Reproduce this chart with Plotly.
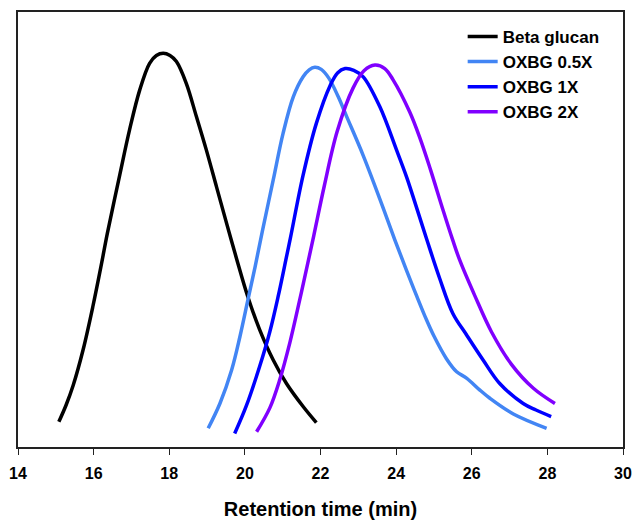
import plotly.graph_objects as go

# Retention time (min) and relative signal (arbitrary units, 0-100)
beta_x = [15.08, 15.27, 15.46, 15.72, 15.98, 16.21, 16.36, 16.69, 16.95, 17.22, 17.48, 17.66,
          17.84, 18.02, 18.19, 18.45, 18.72, 18.98, 19.25, 19.53, 19.78, 20.08, 20.39, 20.75,
          21.10, 21.54, 21.89]
beta_y = [5.8, 9.6, 14.2, 22.3, 32.3, 42.2, 49.0, 62.5, 72.9, 82.1, 88.2, 90.0,
          90.5, 90.0, 88.6, 83.6, 75.9, 68.3, 59.8, 51.0, 43.3, 34.5, 27.0, 20.0,
          14.6, 9.3, 5.6]

ox05_x = [19.03, 19.34, 19.65, 19.87, 20.08, 20.26, 20.46, 20.75, 21.01, 21.28, 21.54, 21.70,
          21.85, 22.02, 22.22, 22.47, 22.69, 23.13, 23.57, 23.97, 24.28, 24.54, 24.80, 25.00,
          25.33, 25.60, 25.87, 26.20, 26.48, 27.10, 27.98]
ox05_y = [4.3, 10.0, 17.7, 25.4, 33.8, 41.0, 49.5, 61.4, 72.1, 80.5, 85.1, 86.7,
          87.3, 86.8, 84.8, 80.5, 76.0, 67.0, 57.0, 47.5, 40.5, 34.8, 29.3, 25.5,
          20.3, 17.3, 15.8, 13.2, 11.2, 7.6, 4.3]

ox1_x = [19.73, 20.04, 20.39, 20.66, 20.88, 21.10, 21.21, 21.54, 21.89, 22.25, 22.45, 22.65,
         22.88, 23.13, 23.57, 24.01, 24.28, 24.45, 24.80, 25.15, 25.50, 25.86, 26.30, 26.74,
         27.36, 27.70, 28.10]
ox1_y = [3.1, 9.5, 18.5, 26.5, 34.6, 43.7, 48.3, 62.5, 74.4, 83.0, 86.0, 87.0,
         86.6, 85.1, 78.2, 68.3, 62.0, 57.5, 48.0, 38.8, 30.7, 25.8, 20.0, 14.6,
         10.0, 8.5, 7.0]

ox2_x = [20.31, 20.66, 20.92, 21.19, 21.45, 21.67, 21.82, 22.10, 22.44, 22.86, 23.15, 23.44,
         23.70, 23.92, 24.36, 24.63, 24.90, 25.24, 25.50, 25.68, 26.08, 26.52, 27.05, 27.63,
         28.20]
ox2_y = [3.5, 9.0, 15.4, 24.0, 33.8, 42.5, 48.5, 60.0, 72.5, 82.5, 86.5, 87.8,
         87.0, 84.4, 77.0, 71.0, 64.0, 54.5, 47.5, 43.0, 34.8, 26.5, 19.0, 13.5,
         10.0]

names = ["Beta glucan", "OXBG 0.5X", "OXBG 1X", "OXBG 2X"]
colors = ["#000000", "#4285F4", "#0000FF", "#8000FF"]
series = [(beta_x, beta_y), (ox05_x, ox05_y), (ox1_x, ox1_y), (ox2_x, ox2_y)]

fig = go.Figure()
for (xs, ys), n, c in zip(series, names, colors):
    fig.add_trace(go.Scatter(x=xs, y=ys, mode="lines", name=n,
                             line=dict(color=c, width=3.5, shape="spline", smoothing=1.0)))

font_family = "Liberation Sans, Arial, sans-serif"
fig.update_layout(
    width=636, height=520,
    margin=dict(l=18, r=13, t=12, b=73),
    plot_bgcolor="white", paper_bgcolor="white",
    showlegend=True,
    legend=dict(x=0.735, y=0.984, xanchor="left", yanchor="top",
                font=dict(family=font_family, size=17, color="black", weight="bold"),
                bgcolor="rgba(0,0,0,0)", tracegroupgap=0, itemwidth=30),
    xaxis=dict(range=[14, 30], tickmode="array", tickvals=[14, 16, 18, 20, 22, 24, 26, 28, 30],
               ticktext=["14", "16", "18", "20", "22", "24", "26", "28", "30"],
               ticks="outside", ticklen=6, tickcolor="#222", tickwidth=1.2,
               ticklabelstandoff=5, automargin=False,
               showline=True, linecolor="#222", linewidth=1.5, mirror=True,
               showgrid=False, zeroline=False,
               tickfont=dict(family=font_family, size=16, color="black", weight="bold"),
               title=dict(text="Retention time (min)", standoff=24,
                          font=dict(family=font_family, size=20, color="black", weight="bold"))),
    yaxis=dict(range=[0, 100], showticklabels=False, ticks="", automargin=False,
               showline=True, linecolor="#222", linewidth=1.5, mirror=True,
               showgrid=False, zeroline=False),
)

fig.write_html("out.html")
